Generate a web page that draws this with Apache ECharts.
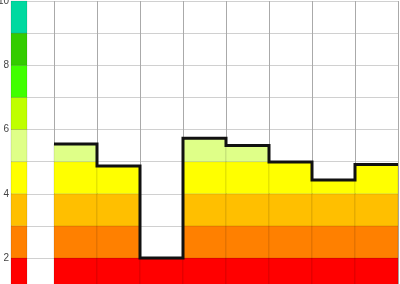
<!DOCTYPE html>
<html>
<head>
<meta charset="utf-8">
<script src="https://cdn.jsdelivr.net/npm/echarts@6/dist/echarts.min.js"></script>
<style>
html,body{margin:0;padding:0;background:#fff;}
#chart{width:400px;height:284px;}
</style>
</head>
<body>
<div id="chart"></div>
<script>
// Band limits (y) and their colours
const bandEdges = [0, 2, 3, 4, 5, 6, 7, 8, 9, 10];
const bandColors = ['#FF0000', '#FF8000', '#FFBF00', '#FFFF00', '#DFFF88', '#BFFF00', '#40FF00', '#33CC00', '#00D9A0'];
// One value per column (columns 1..8 on the x scale)
const columnValues = [5.55, 4.86, 2.0, 5.73, 5.50, 4.99, 4.43, 4.91];
// Y tick labels shown
const yTickLabels = [2, 4, 6, 8, 10];
// colour-bar extent on x scale
const colorBarX = [0, 0.372];

const fillData = [];
bandEdges.slice(0, -1).forEach((lo, b) => {
  const hi = bandEdges[b + 1];
  fillData.push([colorBarX[0], colorBarX[1], lo, hi, b]);
});
columnValues.forEach((v, i) => {
  bandEdges.slice(0, -1).forEach((lo, b) => {
    const hi = bandEdges[b + 1];
    if (v > lo) fillData.push([i + 1, i + 2, lo, Math.min(v, hi), b]);
  });
});

const stepData = [];
columnValues.forEach((v, i) => {
  stepData.push([i + 1, v]);
  stepData.push([i + 2, v]);
});

const chart = echarts.init(document.getElementById('chart'), null, {renderer: 'canvas'});
chart.setOption({
  animation: false,
  grid: {left: 11, width: 387, top: 1, height: 321.25, containLabel: false, outerBoundsMode: 'none'},
  xAxis: {
    type: 'value', min: 0, max: 9, interval: 1,
    axisLine: {show: false}, axisTick: {show: false}, axisLabel: {show: false},
    splitLine: {show: true, lineStyle: {color: '#aaaaaa', width: 1}}
  },
  yAxis: {
    type: 'value', min: 0, max: 10, interval: 1,
    axisLine: {show: false}, axisTick: {show: false},
    axisLabel: {
      margin: 2, color: '#444', fontSize: 10, fontFamily: 'Liberation Sans, Arial, sans-serif',
      formatter: v => yTickLabels.includes(v) ? String(v) : ''
    },
    splitLine: {show: true, lineStyle: {color: '#d0d0d0', width: 1}}
  },
  series: [
    {
      type: 'custom',
      data: fillData,
      z: 2,
      clip: false,
      renderItem: (params, api) => {
        const x0 = api.value(0), x1 = api.value(1), y0 = api.value(2), y1 = api.value(3), b = api.value(4);
        const p1 = api.coord([x0, y1]);
        const p2 = api.coord([x1, y0]);
        return {
          type: 'rect',
          shape: {x: p1[0], y: p1[1], width: p2[0] - p1[0], height: p2[1] - p1[1]},
          style: {fill: bandColors[b], stroke: 'rgba(0,0,0,0.10)', lineWidth: 1}
        };
      }
    },
    {
      type: 'line',
      data: stepData,
      z: 5,
      symbol: 'none',
      lineStyle: {color: '#111', width: 3, join: 'miter'}
    }
  ]
});
</script>
</body>
</html>
